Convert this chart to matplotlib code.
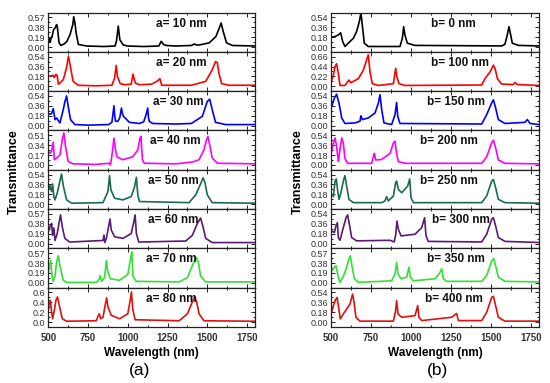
import matplotlib
matplotlib.use("Agg")
import matplotlib.pyplot as plt
from matplotlib.ticker import MultipleLocator, AutoMinorLocator, FixedLocator, FormatStrFormatter

plt.rcParams['font.family'] = ['Liberation Sans', 'DejaVu Sans']

# ---------------- Panel (a) data ----------------
a_labels = ["a= 10 nm", "a= 20 nm", "a= 30 nm", "a= 40 nm", "a= 50 nm", "a= 60 nm", "a= 70 nm", "a= 80 nm"]
a_colors = ["#000000", "#ff0000", "#0000ff", "#ff00ff", "#1b6b4c", "#5a1a72", "#33e033", "#e01010"]
a_ticktop = [0.57, 0.54, 0.54, 0.51, 0.54, 0.57, 0.57, 0.6]
a_label_x = [1180, 1180, 1160, 1140, 1130, 1125, 1115, 1115]

a10_wl = [500, 506, 512, 518, 523, 533, 544, 552, 556, 568, 579, 600, 617, 637, 654, 660, 668, 675, 689, 742, 850, 920, 929, 940, 950, 971, 1000, 1100, 1195, 1210, 1225, 1242, 1300, 1400, 1419, 1430, 1450, 1512, 1554, 1575, 1587, 1600, 1621, 1658, 1800]
a10_T = [0.10, 0.16, 0.09, 0.18, 0.19, 0.33, 0.37, 0.43, 0.40, 0.08, 0.03, 0.06, 0.11, 0.24, 0.43, 0.58, 0.45, 0.27, 0.05, 0.02, 0.01, 0.02, 0.12, 0.40, 0.14, 0.04, 0.02, 0.01, 0.02, 0.11, 0.05, 0.03, 0.02, 0.03, 0.06, 0.04, 0.04, 0.08, 0.20, 0.36, 0.46, 0.30, 0.08, 0.03, 0.02]

a20_wl = [500, 515, 531, 538, 548, 556, 563, 569, 594, 615, 627, 640, 656, 688, 800, 900, 917, 927, 935, 952, 980, 1021, 1033, 1038, 1048, 1073, 1150, 1188, 1202, 1213, 1250, 1400, 1490, 1531, 1552, 1563, 1573, 1590, 1635, 1800]
a20_T = [0.18, 0.19, 0.20, 0.16, 0.22, 0.19, 0.04, 0.05, 0.12, 0.34, 0.55, 0.34, 0.09, 0.02, 0.01, 0.02, 0.15, 0.38, 0.18, 0.05, 0.03, 0.04, 0.22, 0.16, 0.06, 0.03, 0.04, 0.10, 0.14, 0.02, 0.02, 0.02, 0.09, 0.30, 0.45, 0.43, 0.24, 0.05, 0.02, 0.02]

a30_wl = [500, 511, 521, 531, 535, 542, 552, 573, 594, 604, 615, 625, 640, 667, 750, 880, 900, 913, 918, 923, 938, 950, 960, 966, 973, 1010, 1073, 1100, 1115, 1125, 1130, 1135, 1156, 1300, 1400, 1469, 1500, 1515, 1531, 1552, 1615, 1800]
a30_T = [0.22, 0.21, 0.22, 0.31, 0.24, 0.11, 0.14, 0.05, 0.29, 0.43, 0.54, 0.35, 0.11, 0.02, 0.01, 0.02, 0.06, 0.36, 0.18, 0.08, 0.08, 0.15, 0.32, 0.22, 0.17, 0.06, 0.04, 0.07, 0.20, 0.32, 0.15, 0.08, 0.04, 0.03, 0.04, 0.17, 0.44, 0.48, 0.29, 0.06, 0.02, 0.02]

a40_wl = [500, 511, 521, 531, 538, 552, 573, 588, 598, 608, 625, 656, 800, 885, 890, 896, 906, 913, 921, 931, 969, 1031, 1063, 1077, 1083, 1092, 1104, 1300, 1406, 1448, 1479, 1494, 1504, 1517, 1531, 1563, 1800]
a40_T = [0.23, 0.20, 0.24, 0.39, 0.09, 0.12, 0.17, 0.43, 0.55, 0.32, 0.06, 0.02, 0.01, 0.03, 0.00, 0.08, 0.29, 0.46, 0.29, 0.14, 0.09, 0.14, 0.26, 0.46, 0.49, 0.09, 0.03, 0.02, 0.05, 0.09, 0.26, 0.42, 0.49, 0.32, 0.12, 0.03, 0.02]

a50_wl = [500, 511, 521, 527, 535, 542, 556, 569, 583, 594, 615, 646, 844, 875, 885, 894, 917, 969, 1021, 1042, 1054, 1063, 1073, 1385, 1427, 1458, 1473, 1485, 1500, 1531, 1800]
a50_T = [0.26, 0.34, 0.23, 0.37, 0.14, 0.08, 0.20, 0.37, 0.55, 0.34, 0.08, 0.02, 0.03, 0.23, 0.52, 0.26, 0.11, 0.08, 0.14, 0.31, 0.49, 0.17, 0.05, 0.03, 0.17, 0.37, 0.48, 0.40, 0.17, 0.03, 0.02]

a60_wl = [500, 511, 521, 527, 535, 542, 556, 569, 577, 588, 604, 635, 844, 850, 856, 865, 879, 888, 896, 917, 969, 1021, 1038, 1046, 1054, 1069, 1365, 1406, 1438, 1458, 1473, 1490, 1531, 1800]
a60_T = [0.23, 0.32, 0.39, 0.16, 0.30, 0.06, 0.19, 0.42, 0.55, 0.32, 0.10, 0.03, 0.06, 0.16, 0.02, 0.10, 0.32, 0.47, 0.26, 0.13, 0.10, 0.19, 0.42, 0.55, 0.19, 0.03, 0.05, 0.16, 0.39, 0.49, 0.32, 0.10, 0.02, 0.02]

a70_wl = [500, 506, 515, 523, 531, 542, 552, 563, 573, 594, 615, 802, 819, 827, 835, 854, 865, 873, 890, 948, 1000, 1017, 1025, 1033, 1052, 1323, 1375, 1406, 1431, 1444, 1458, 1490, 1800]
a70_T = [0.20, 0.33, 0.43, 0.13, 0.03, 0.13, 0.39, 0.52, 0.33, 0.05, 0.01, 0.01, 0.07, 0.14, 0.03, 0.10, 0.43, 0.23, 0.08, 0.05, 0.16, 0.46, 0.59, 0.13, 0.03, 0.02, 0.10, 0.33, 0.49, 0.39, 0.13, 0.02, 0.02]

a80_wl = [500, 506, 513, 521, 527, 538, 548, 558, 569, 588, 615, 802, 815, 821, 829, 844, 860, 867, 875, 896, 948, 1000, 1015, 1023, 1031, 1046, 1323, 1375, 1402, 1421, 1433, 1448, 1479, 1800]
a80_T = [0.24, 0.41, 0.44, 0.20, 0.07, 0.24, 0.44, 0.51, 0.34, 0.07, 0.02, 0.03, 0.14, 0.17, 0.07, 0.10, 0.38, 0.49, 0.31, 0.14, 0.07, 0.17, 0.44, 0.61, 0.27, 0.05, 0.03, 0.17, 0.38, 0.51, 0.41, 0.17, 0.03, 0.02]

a_wl = [a10_wl, a20_wl, a30_wl, a40_wl, a50_wl, a60_wl, a70_wl, a80_wl]
a_T = [a10_T, a20_T, a30_T, a40_T, a50_T, a60_T, a70_T, a80_T]

# ---------------- Panel (b) data ----------------
b_labels = ["b= 0 nm", "b= 100 nm", "b= 150 nm", "b= 200 nm", "b= 250 nm", "b= 300 nm", "b= 350 nm", "b= 400 nm"]
b_colors = ["#000000", "#ff0000", "#0000ff", "#ff00ff", "#1b6b4c", "#5a1a72", "#33e033", "#e01010"]
b_ticktop = [0.54, 0.66, 0.54, 0.54, 0.54, 0.54, 0.57, 0.54]
b_label_x = [1125, 1125, 1100, 1055, 1055, 1130, 1100, 1085]

b0_wl = [504, 525, 546, 560, 573, 587, 608, 640, 660, 677, 687, 698, 708, 733, 931, 946, 954, 962, 977, 1025, 1567, 1587, 1602, 1612, 1623, 1633, 1671, 1800]
b0_T = [0.18, 0.19, 0.22, 0.26, 0.10, 0.01, 0.07, 0.16, 0.28, 0.46, 0.62, 0.34, 0.07, 0.01, 0.01, 0.16, 0.37, 0.22, 0.07, 0.03, 0.02, 0.05, 0.22, 0.37, 0.22, 0.07, 0.03, 0.02]

b100_wl = [504, 515, 525, 535, 546, 556, 587, 612, 623, 671, 702, 723, 733, 744, 758, 796, 890, 904, 912, 925, 962, 1442, 1462, 1494, 1515, 1525, 1540, 1567, 1639, 1650, 1664, 1800]
b100_T = [0.14, 0.25, 0.44, 0.50, 0.29, 0.02, 0.02, 0.14, 0.08, 0.17, 0.36, 0.59, 0.70, 0.32, 0.06, 0.02, 0.06, 0.40, 0.21, 0.06, 0.02, 0.03, 0.17, 0.32, 0.47, 0.40, 0.17, 0.05, 0.04, 0.09, 0.04, 0.02]

b150_wl = [504, 521, 535, 550, 567, 587, 650, 681, 687, 696, 733, 775, 796, 806, 817, 831, 879, 900, 910, 917, 931, 1442, 1473, 1504, 1515, 1529, 1546, 1587, 1712, 1727, 1744, 1800]
b150_T = [0.35, 0.50, 0.57, 0.41, 0.14, 0.04, 0.05, 0.08, 0.18, 0.11, 0.14, 0.23, 0.41, 0.56, 0.29, 0.05, 0.02, 0.20, 0.42, 0.17, 0.04, 0.03, 0.20, 0.41, 0.47, 0.32, 0.11, 0.04, 0.06, 0.11, 0.04, 0.02]

b200_wl = [504, 515, 525, 535, 546, 556, 567, 577, 587, 604, 754, 765, 771, 779, 817, 869, 890, 900, 910, 921, 962, 1442, 1473, 1504, 1515, 1529, 1546, 1587, 1800]
b200_T = [0.25, 0.40, 0.49, 0.34, 0.06, 0.28, 0.49, 0.40, 0.12, 0.03, 0.03, 0.15, 0.21, 0.09, 0.10, 0.21, 0.40, 0.43, 0.21, 0.06, 0.03, 0.03, 0.15, 0.40, 0.45, 0.31, 0.09, 0.03, 0.02]

b250_wl = [504, 515, 525, 533, 542, 550, 562, 577, 587, 598, 612, 640, 817, 837, 848, 858, 890, 904, 910, 921, 942, 979, 992, 1000, 1015, 1442, 1473, 1504, 1515, 1529, 1546, 1587, 1800]
b250_T = [0.18, 0.14, 0.42, 0.46, 0.24, 0.09, 0.21, 0.42, 0.52, 0.33, 0.09, 0.03, 0.03, 0.06, 0.14, 0.06, 0.15, 0.39, 0.42, 0.27, 0.21, 0.33, 0.46, 0.12, 0.03, 0.03, 0.15, 0.42, 0.45, 0.30, 0.09, 0.03, 0.02]

b300_wl = [504, 521, 531, 540, 546, 556, 577, 594, 604, 615, 629, 660, 869, 895, 905, 912, 921, 938, 1025, 1067, 1085, 1094, 1108, 1442, 1473, 1504, 1515, 1529, 1546, 1587, 1800]
b300_T = [0.23, 0.20, 0.32, 0.38, 0.11, 0.06, 0.29, 0.47, 0.52, 0.35, 0.11, 0.05, 0.06, 0.03, 0.17, 0.41, 0.26, 0.14, 0.17, 0.29, 0.47, 0.14, 0.04, 0.03, 0.17, 0.44, 0.47, 0.32, 0.11, 0.04, 0.02]

b350_wl = [504, 521, 531, 546, 556, 577, 598, 612, 621, 629, 646, 671, 879, 900, 910, 919, 938, 973, 987, 996, 1015, 1150, 1175, 1192, 1202, 1223, 1442, 1473, 1504, 1517, 1531, 1546, 1587, 1800]
b350_T = [0.23, 0.30, 0.33, 0.11, 0.01, 0.12, 0.30, 0.46, 0.52, 0.36, 0.08, 0.01, 0.04, 0.17, 0.39, 0.17, 0.08, 0.11, 0.30, 0.11, 0.04, 0.08, 0.17, 0.27, 0.08, 0.03, 0.03, 0.14, 0.42, 0.47, 0.30, 0.11, 0.03, 0.02]

b400_wl = [504, 515, 525, 538, 546, 558, 577, 598, 619, 635, 644, 656, 681, 890, 904, 910, 919, 942, 1025, 1042, 1050, 1067, 1254, 1285, 1296, 1442, 1473, 1504, 1515, 1529, 1546, 1587, 1800]
b400_T = [0.18, 0.30, 0.39, 0.45, 0.30, 0.06, 0.15, 0.24, 0.33, 0.51, 0.36, 0.09, 0.02, 0.02, 0.21, 0.39, 0.15, 0.09, 0.12, 0.30, 0.09, 0.03, 0.09, 0.16, 0.03, 0.03, 0.18, 0.45, 0.47, 0.30, 0.09, 0.02, 0.02]

b_wl = [b0_wl, b100_wl, b150_wl, b200_wl, b250_wl, b300_wl, b350_wl, b400_wl]
b_T = [b0_T, b100_T, b150_T, b200_T, b250_T, b300_T, b350_T, b400_T]

x_ticks = [500, 750, 1000, 1250, 1500, 1750]

# ---------------- Layout ----------------
W, H = 550, 383
fig = plt.figure(figsize=(W / 100, H / 100), dpi=100)

top_px, bot_px = 12.5, 327.0
sub_h = (bot_px - top_px) / 8
tick_col = "#333333"


def draw_panel(left_px, right_px, wls, Ts, labels, colors, ticktops, label_xs, ylab_x, panel_tag, tag_x):
    axes = []
    for k in range(8):
        y0 = H - (top_px + sub_h * (k + 1))
        ax = fig.add_axes([left_px / W, y0 / H, (right_px - left_px) / W, sub_h / H])
        ax.plot(wls[k], Ts[k], color=colors[k], lw=1.2)
        t = ticktops[k]
        ax.set_xlim(500, 1800)
        ax.set_ylim(-0.16 * t, 1.16 * t)
        yt = [0, t / 3, 2 * t / 3, t]
        ax.yaxis.set_major_locator(FixedLocator(yt))
        ax.yaxis.set_major_formatter(FormatStrFormatter('%.1f' if t == 0.6 else '%.2f'))
        ax.yaxis.set_minor_locator(AutoMinorLocator(2))
        ax.xaxis.set_major_locator(FixedLocator(x_ticks))
        ax.xaxis.set_minor_locator(MultipleLocator(125))
        ax.tick_params(which='both', direction='in', top=True, right=True, colors='#222222',
                       labelcolor=tick_col, width=0.7)
        ax.tick_params(which='major', length=3, labelsize=6.5, pad=2)
        ax.tick_params(which='minor', length=1.6)
        for s in ax.spines.values():
            s.set_linewidth(0.9)
            s.set_color('#222222')
        if k < 7:
            ax.tick_params(axis='x', labelbottom=False)
        else:
            ax.tick_params(axis='x', labelsize=7, pad=4)
            for lbl in ax.get_xticklabels():
                lbl.set_fontweight('bold')
        ax.text(label_xs[k], 0.72, labels[k], transform=ax.get_xaxis_transform(),
                fontsize=8.5, fontweight='bold', va='center', ha='left', color='#111111')
        axes.append(ax)
    cx = (left_px + right_px) / 2
    fig.text(ylab_x / W, 1 - 172 / H, "Transmittance", rotation=90, fontsize=9,
             fontweight='bold', ha='center', va='center')
    fig.text(cx / W, 1 - 353 / H, "Wavelength (nm)", fontsize=8.5, fontweight='bold',
             ha='center', va='center')
    fig.text(tag_x / W, 1 - 371 / H, panel_tag, fontsize=12.5, ha='center', va='center')
    return axes


draw_panel(48.3, 255.0, a_wl, a_T, a_labels, a_colors, a_ticktop, a_label_x, 14, "(a)", 140)
draw_panel(331.0, 539.0, b_wl, b_T, b_labels, b_colors, b_ticktop, b_label_x, 298, "(b)", 437)

fig.savefig("out.png", dpi=100)
